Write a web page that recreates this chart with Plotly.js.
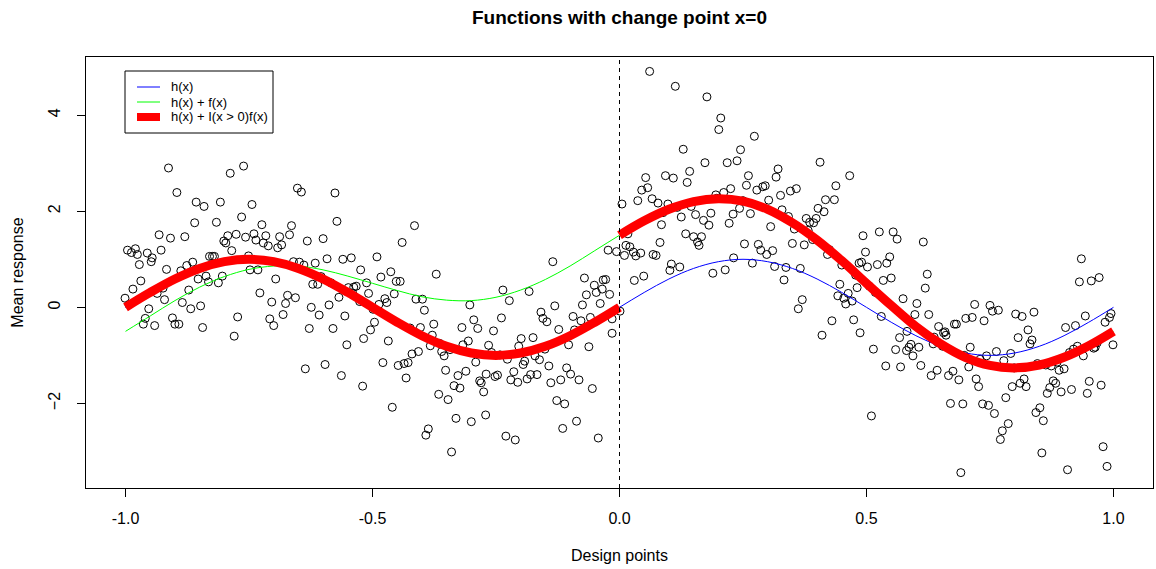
<!DOCTYPE html>
<html>
<head>
<meta charset="utf-8">
<script src="https://cdn.plot.ly/plotly-3.0.1.min.js"></script>
<style>html,body{margin:0;padding:0;background:#fff}#chart{width:1156px;height:569px}</style>
</head>
<body>
<div id="chart"></div>
<script>
// Grid of design points for the curves
const gridX = [-1,-0.95,-0.9,-0.85,-0.8,-0.75,-0.7,-0.65,-0.6,-0.55,-0.5,-0.45,-0.4,-0.35,-0.3,-0.25,-0.2,-0.15,-0.1,-0.05,0,
  0.05,0.1,0.15,0.2,0.25,0.3,0.35,0.4,0.45,0.5,0.55,0.6,0.65,0.7,0.75,0.8,0.85,0.9,0.95,1];
// h(x) curve values
const hVals = [0,0.31,0.59,0.81,0.95,1,0.95,0.81,0.59,0.31,0,-0.31,-0.59,-0.81,-0.95,-1,-0.95,-0.81,-0.59,-0.31,0,
  0.31,0.59,0.81,0.95,1,0.95,0.81,0.59,0.31,0,-0.31,-0.59,-0.81,-0.95,-1,-0.95,-0.81,-0.59,-0.31,0];
// h(x)+f(x) curve values
const hfVals = [-0.5,-0.18,0.14,0.42,0.64,0.79,0.86,0.86,0.78,0.65,0.5,0.35,0.22,0.15,0.14,0.21,0.36,0.58,0.86,1.18,1.5,
  1.8,2.04,2.2,2.26,2.21,2.04,1.76,1.4,0.97,0.5,0.04,-0.4,-0.76,-1.04,-1.21,-1.26,-1.2,-1.04,-0.8,-0.5];
const changePoint = 0;

// Observed responses
const pointX = [
-0.913,-0.788,-0.896,-0.857,-0.841,-0.808,-0.860,-0.816,-0.932,-0.909,-0.880,-0.776,-0.793,-0.801,-0.797,-0.996,-0.988,-0.980,-0.976,-0.956,
-0.946,-0.948,-0.928,-0.972,-0.785,-0.917,-0.888,-0.876,-0.864,-0.830,-0.824,-0.820,-0.969,-0.985,-1.001,-0.993,-0.936,-0.924,-0.921,-0.885,
-0.872,-0.868,-0.853,-0.837,-0.832,-0.812,-0.804,-0.848,-0.953,-0.960,-0.964,-0.941,-0.905,-0.900,-0.892,-0.844,-0.773,-0.780,
-0.761,-0.652,-0.644,-0.576,-0.744,-0.765,-0.572,-0.724,-0.664,-0.757,-0.740,-0.736,-0.716,-0.721,-0.711,-0.688,-0.684,-0.692,-0.668,-0.632,
-0.600,-0.751,-0.660,-0.648,-0.639,-0.616,-0.592,-0.560,-0.543,-0.524,-0.748,-0.732,-0.696,-0.621,-0.611,-0.604,-0.584,-0.549,-0.538,-0.533,
-0.540,-0.526,-0.568,-0.588,-0.728,-0.704,-0.672,-0.676,-0.656,-0.624,-0.608,-0.681,-0.708,-0.700,-0.628,-0.580,-0.556,-0.552,-0.518,-0.636,
-0.596,-0.563,-0.520,
-0.415,-0.440,-0.491,-0.463,-0.483,-0.452,-0.444,-0.371,-0.512,-0.508,-0.456,-0.475,-0.471,-0.487,-0.499,-0.412,-0.399,-0.395,-0.303,-0.295,
-0.287,-0.319,-0.376,-0.496,-0.504,-0.468,-0.424,-0.403,-0.379,-0.306,-0.317,-0.364,-0.383,-0.343,-0.360,-0.355,-0.420,-0.407,-0.265,-0.291,
-0.428,-0.436,-0.448,-0.479,-0.432,-0.352,-0.327,-0.311,-0.270,-0.335,-0.323,-0.283,-0.280,-0.275,-0.366,-0.347,-0.460,-0.331,-0.300,-0.271,
-0.387,-0.392,-0.340,
-0.135,-0.023,-0.071,-0.051,-0.033,-0.028,-0.035,-0.047,-0.067,-0.020,-0.236,-0.183,-0.223,-0.131,-0.075,-0.039,-0.239,-0.159,-0.155,-0.147,
-0.094,-0.078,-0.059,-0.015,-0.255,-0.123,-0.091,-0.199,-0.175,-0.204,-0.103,-0.062,-0.259,-0.242,-0.227,-0.171,-0.162,-0.151,-0.192,-0.195,
-0.143,-0.107,-0.099,-0.082,-0.119,-0.139,-0.180,-0.187,-0.167,-0.214,-0.220,-0.206,-0.252,-0.247,-0.055,-0.127,-0.111,-0.087,-0.115,-0.230,
-0.211,-0.043,-0.015,
0.061,0.113,0.177,0.205,0.201,0.129,0.173,0.218,0.142,0.137,0.093,0.109,0.053,0.045,0.057,0.037,0.066,0.078,0.005,0.098,
0.088,0.117,0.125,0.145,0.154,0.170,0.181,0.185,0.222,0.230,0.225,0.195,0.197,0.211,0.085,0.017,0.134,0.150,0.166,0.158,
0.161,0.082,0.013,0.021,0.028,-0.006,0.010,0.033,0.043,0.068,0.074,0.105,0.102,0.122,0.189,0.214,0.049,0.030,0.001,
0.273,0.245,0.238,0.406,0.321,0.317,0.261,0.466,0.257,0.278,0.290,0.295,0.438,0.346,0.358,0.326,0.417,0.435,0.302,0.250,
0.243,0.265,0.329,0.342,0.402,0.414,0.378,0.385,0.393,0.398,0.306,0.354,0.382,0.391,0.350,0.374,0.253,0.281,0.286,0.298,
0.310,0.425,0.421,0.450,0.478,0.231,0.269,0.314,0.337,0.366,0.333,0.446,0.442,0.463,0.454,0.471,0.458,0.481,0.370,0.362,
0.430,0.410,0.474,0.485,
0.493,0.526,0.554,0.562,0.615,0.498,0.490,0.502,0.522,0.541,0.547,0.623,0.619,0.534,0.550,0.506,0.518,0.574,0.602,0.598,
0.626,0.530,0.487,0.582,0.567,0.646,0.659,0.678,0.682,0.701,0.714,0.719,0.661,0.656,0.643,0.637,0.635,0.654,0.590,0.586,
0.581,0.594,0.606,0.559,0.514,0.539,0.569,0.610,0.631,0.643,0.666,0.675,0.687,0.710,0.698,0.707,0.722,0.727,0.730,0.670,
0.695,0.510,0.691,
0.935,0.931,0.955,0.971,0.750,0.755,0.767,0.738,0.802,0.815,0.839,0.827,0.807,0.835,0.831,0.903,0.923,0.943,0.983,0.992,
0.995,0.967,0.963,0.960,0.927,0.919,0.911,0.939,0.999,0.763,0.743,0.792,0.778,0.799,0.846,0.863,0.874,0.886,0.890,0.900,
0.878,0.883,0.871,0.866,0.894,0.915,0.819,0.811,0.823,0.795,0.951,0.975,0.947,0.735,0.747,0.759,0.782,0.851,0.843,0.858,
0.787,0.775,0.771,0.855,0.907,0.979,0.987];
const pointY = [
2.90,2.79,2.39,2.19,2.10,2.19,1.76,1.77,1.51,1.44,1.47,1.52,1.49,1.38,1.34,1.19,1.14,1.22,1.10,1.13,
1.03,0.95,1.19,0.89,1.18,0.79,0.76,0.87,0.94,1.06,1.06,1.06,0.55,0.38,0.19,0.06,0.29,0.40,0.16,0.10,
0.36,-0.03,0.59,0.65,0.53,0.51,0.65,0.03,-0.03,-0.23,-0.35,-0.38,-0.22,-0.35,-0.35,-0.42,-0.20,-0.60,
2.94,2.48,2.40,2.38,2.14,1.88,1.79,1.72,1.70,1.46,1.53,1.40,1.49,1.34,1.28,1.47,1.30,1.24,1.51,1.38,
1.43,1.07,0.95,0.94,0.88,0.92,1.01,1.00,1.03,0.78,0.78,0.78,0.59,0.48,0.48,0.64,0.51,0.41,0.42,0.44,
0.29,0.12,0.21,0.05,0.30,0.11,0.25,0.08,0.20,0.00,-0.16,-0.15,-0.24,-0.38,-0.44,-0.44,-0.18,-0.78,-0.65,-1.28,
-1.19,-1.42,-1.64,
1.70,1.35,1.05,0.74,0.63,0.54,0.54,0.69,0.51,0.29,0.28,0.18,0.10,0.06,-0.04,0.17,0.17,-0.06,0.05,-0.26,
-0.44,-0.42,-0.35,-0.31,-0.47,-0.70,-0.43,-0.42,-0.58,-0.70,-0.78,-0.75,-0.80,-0.88,-0.92,-1.01,-0.97,-0.92,-0.79,-1.14,
-1.15,-1.17,-1.21,-1.15,-1.47,-1.31,-1.42,-1.33,-1.39,-1.63,-1.68,-1.53,-1.57,-1.76,-1.81,-1.92,-2.08,-2.31,-2.38,-2.24,
-2.53,-2.66,-3.01,
0.95,1.19,0.61,0.46,0.57,0.58,0.38,0.31,0.26,0.27,0.36,0.33,0.14,0.03,0.05,0.08,-0.22,-0.10,-0.23,-0.30,
-0.19,-0.28,-0.21,-0.24,-0.49,-0.46,-0.47,-0.65,-0.63,-0.81,-0.78,-0.82,-0.94,-0.99,-1.08,-1.01,-1.09,-0.87,-1.12,-1.19,
-1.22,-1.26,-1.39,-1.51,-1.51,-1.57,-1.40,-1.49,-1.40,-1.34,-1.51,-1.56,-1.44,-1.41,-1.69,-1.94,-2.01,-2.37,-2.52,-2.68,
-2.76,-2.72,-0.54,
4.91,4.60,4.38,3.94,3.70,3.29,3.01,3.01,2.83,2.60,2.74,2.69,2.70,2.44,2.49,2.22,2.26,2.17,2.15,2.15,
1.97,2.08,1.88,2.10,1.93,1.81,1.71,1.96,1.75,1.94,2.47,2.34,2.27,2.39,1.72,1.53,1.53,1.47,1.47,1.36,
1.29,1.35,1.29,1.26,1.15,1.16,1.08,1.07,1.13,1.10,1.08,0.90,0.77,0.84,0.71,0.78,0.65,0.56,-0.08,
3.56,3.28,3.05,3.02,2.88,2.71,2.74,2.74,2.54,2.44,2.51,2.53,2.53,2.42,2.47,2.33,2.24,2.24,2.23,2.22,
2.06,1.95,2.03,1.89,2.06,1.99,1.85,1.77,1.76,1.85,1.68,1.63,1.60,1.41,1.33,1.30,1.32,1.31,1.19,1.10,
1.18,1.20,1.10,0.88,0.67,1.03,0.92,0.85,0.83,0.81,0.57,0.48,0.24,0.29,0.19,0.13,0.07,0.41,0.16,-0.03,
-0.28,-0.58,-0.26,0.92,
1.49,1.57,1.57,1.42,1.36,1.15,0.94,0.84,0.89,0.92,1.05,0.69,0.40,0.56,0.61,0.44,0.31,0.18,0.08,-0.15,
-0.15,-0.19,-0.53,-0.50,-0.63,-0.40,-0.51,-0.35,-0.35,-0.23,-0.21,0.06,-0.58,-0.53,-0.72,-0.62,-0.76,-0.81,-0.77,-0.83,
-0.90,-1.01,-0.83,-0.88,-0.87,-1.22,-1.24,-1.21,-1.42,-1.31,-1.42,-1.33,-1.51,-0.83,-1.00,-1.24,-1.49,-1.65,-1.08,-2.00,
-2.01,-2.26,-3.44,
1.01,0.53,0.55,0.62,0.04,-0.08,-0.06,-0.28,-0.14,-0.19,-0.10,-0.47,-0.63,-0.68,-0.76,-0.42,-0.38,-0.18,-0.31,-0.21,
-0.13,-0.74,-0.83,-0.85,-0.81,-0.87,-0.94,-1.01,-0.78,-0.92,-1.01,-0.96,-1.11,-1.26,-1.17,-1.20,-1.22,-1.14,-1.31,-1.28,
-1.53,-1.58,-1.67,-1.79,-1.76,-1.71,-1.49,-1.58,-1.65,-1.65,-1.54,-1.62,-1.79,-2.01,-2.04,-2.21,-1.88,-2.09,-2.19,-2.36,
-2.42,-2.57,-2.75,-3.03,-3.38,-2.90,-3.31];

const xTickVals = [-1, -0.5, 0, 0.5, 1];
const xTickText = ['-1.0', '-0.5', '0.0', '0.5', '1.0'];
const yTickVals = [-2, 0, 2, 4];
const yTickText = ['\u22122', '0', '2', '4'];
const seriesNames = ['h(x)', 'h(x) + f(x)', 'h(x) + I(x > 0)f(x)'];
const seriesColors = ['#0000ff', '#00ff00', '#ff0000'];
const seriesWidths = [1, 1, 9];

// Red curve: h(x) left of the change point, h(x)+f(x) right of it (gap at the jump)
const redX = [], redY = [];
gridX.forEach((x, i) => { if (x <= changePoint) { redX.push(x); redY.push(hVals[i]); } });
redX.push(null); redY.push(null);
gridX.forEach((x, i) => { if (x >= changePoint) { redX.push(x); redY.push(hfVals[i]); } });

const FONT = 'Liberation Sans, Arial, Helvetica, sans-serif';

// Plot area geometry (pixels) used to place the boxed legend like R's legend()
const W = 1156, H = 569, ML = 86, MR = 3, MT = 57, MB = 81;
const PW = W - ML - MR, PH = H - MT - MB;
const px = v => (v - ML) / PW;
const py = v => 1 - (v - MT) / PH;

const traces = [
  {x: pointX, y: pointY, type: 'scatter', mode: 'markers', showlegend: false, hoverinfo: 'x+y',
   marker: {symbol: 'circle-open', size: 8, color: '#000', line: {width: 1, color: '#000'}}},
  {x: gridX, y: hVals, type: 'scatter', mode: 'lines', name: seriesNames[0], showlegend: false,
   line: {color: seriesColors[0], width: seriesWidths[0], shape: 'spline', smoothing: 1}},
  {x: gridX, y: hfVals, type: 'scatter', mode: 'lines', name: seriesNames[1], showlegend: false,
   line: {color: seriesColors[1], width: seriesWidths[1], shape: 'spline', smoothing: 1}},
  {x: redX, y: redY, type: 'scatter', mode: 'lines', name: seriesNames[2], connectgaps: false, showlegend: false,
   line: {color: seriesColors[2], width: seriesWidths[2], shape: 'spline', smoothing: 1}}
];

// Legend (box, key lines and labels)
const legendShapes = [
  {type: 'rect', xref: 'paper', yref: 'paper', x0: px(125), x1: px(273), y0: py(71), y1: py(133),
   line: {color: '#000', width: 1}, fillcolor: '#fff', layer: 'above'}
];
const legendAnn = [];
seriesNames.forEach((name, i) => {
  const yy = 87 + i * 15;
  legendShapes.push({type: 'line', xref: 'paper', yref: 'paper', x0: px(137), x1: px(160), y0: py(yy), y1: py(yy),
    line: {color: seriesColors[i], width: Math.min(seriesWidths[i], 8)}, layer: 'above'});
  legendAnn.push({xref: 'paper', yref: 'paper', x: px(169), y: py(yy), xanchor: 'left', yanchor: 'middle',
    text: name, showarrow: false, font: {family: FONT, size: 13, color: '#000'}});
});

const axisCommon = {
  showgrid: false, zeroline: false, showline: true, mirror: true,
  linecolor: '#000', linewidth: 1, ticks: 'outside', ticklen: 8, tickwidth: 1, tickcolor: '#000',
  tickfont: {family: FONT, size: 16, color: '#000'}, automargin: false
};

const layout = {
  width: W, height: H,
  paper_bgcolor: '#fff', plot_bgcolor: '#fff',
  font: {family: FONT, color: '#000'},
  margin: {l: ML, r: MR, t: MT, b: MB},
  title: {text: '<b>Functions with change point x=0</b>', font: {family: FONT, size: 19, color: '#000'},
          x: 0.5, xref: 'paper', xanchor: 'center', y: 1 - 17 / H, yref: 'container', yanchor: 'middle'},
  xaxis: Object.assign({}, axisCommon, {
    range: [-1.08, 1.08], tickmode: 'array', tickvals: xTickVals, ticktext: xTickText,
    ticklabelstandoff: 8,
    title: {text: 'Design points', font: {family: FONT, size: 16, color: '#000'}, standoff: 23}
  }),
  yaxis: Object.assign({}, axisCommon, {
    range: [-3.76, 5.21], tickmode: 'array', tickvals: yTickVals, ticktext: yTickText,
    tickangle: -90, ticklabelstandoff: 11,
    title: {text: 'Mean response', font: {family: FONT, size: 16, color: '#000'}, standoff: 17}
  }),
  showlegend: false,
  shapes: [
    {type: 'line', xref: 'x', yref: 'paper', x0: changePoint, x1: changePoint, y0: 0, y1: 1,
     line: {color: '#000', width: 1, dash: '4px,4px'}}
  ].concat(legendShapes),
  annotations: legendAnn
};

Plotly.newPlot('chart', traces, layout, {displayModeBar: false, staticPlot: true});
</script>
</body>
</html>
